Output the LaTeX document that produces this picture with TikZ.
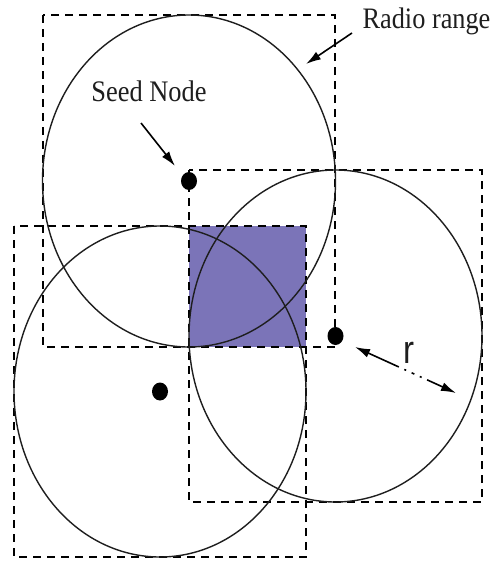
\documentclass[tikz,border=0pt]{standalone}
\usepackage{fontspec}
\setmainfont{Liberation Serif}
\newfontfamily\rfont{Liberation Sans}
\usetikzlibrary{arrows.meta,shapes.geometric}
\definecolor{overlap}{RGB}{123,116,184}
\definecolor{ink}{RGB}{30,30,30}
\begin{document}
\begin{tikzpicture}[x=1pt,y=-1pt,
  radiorange/.style={draw=ink, line width=1.4pt},
  zonebox/.style={draw=black, line width=1.9pt, dash pattern=on 8pt off 6pt},
  sensor/.style={ellipse, fill=black, minimum width=16pt, minimum height=18pt, inner sep=0pt},
  tip/.style={Latex[length=15pt,width=9pt]},
  pointer/.style={draw=black, line width=1.6pt, -{Latex[length=15pt,width=9pt]}},
  lbl/.style={inner sep=0pt, anchor=base, text=ink}]
\useasboundingbox (0,0) rectangle (493,562);
% overlap region
\fill[overlap] (189,226) rectangle (306,347);
% dashed coverage boxes
\draw[zonebox] (43,15) rectangle (335,347);
\draw[zonebox] (14,226) rectangle (306,557);
\draw[zonebox] (189,170) rectangle (482,502);
% radio ranges
\draw[radiorange] (189,181) ellipse [x radius=146.5, y radius=166];
\draw[radiorange] (160,391.5) ellipse [x radius=146, y radius=165.5];
\draw[radiorange] (335.5,336) ellipse [x radius=146.5, y radius=166];
% sensor nodes
\node[sensor] (seed) at (189,181) {};
\node[sensor] (n2) at (160,391.5) {};
\node[sensor] (n3) at (335.5,336) {};
% labels
\node[lbl] (seedlbl) at (149,101) {\scalebox{1}[1.13]{\fontsize{26.4pt}{30pt}\selectfont Seed Node}};
\node[lbl] (radiolbl) at (426.5,28) {\scalebox{1}[1.13]{\fontsize{26.3pt}{30pt}\selectfont Radio range}};
\node[lbl] (rlbl) at (409,363) {\scalebox{1}[1.2]{\rfont\fontsize{33pt}{36pt}\selectfont r}};
% arrows
\coordinate (seedtail) at (141,123);
\coordinate (seedtip) at (175,166);
\draw[pointer] (seedtail) -- (seedtip);
\coordinate (radiotail) at (352,33);
\coordinate (radiotip) at (306,64);
\draw[pointer] (radiotail) -- (radiotip);
\coordinate (rstart) at (355,347);
\coordinate (rend) at (456,393);
\draw[draw=black, line width=1.6pt, {Latex[length=15pt,width=9pt]}-{Latex[length=15pt,width=9pt]},
  dash pattern=on 34pt off 6pt on 2pt off 6pt on 3pt off 6pt on 2pt off 6pt on 60pt] (rstart) -- (rend);
\end{tikzpicture}
\end{document}
